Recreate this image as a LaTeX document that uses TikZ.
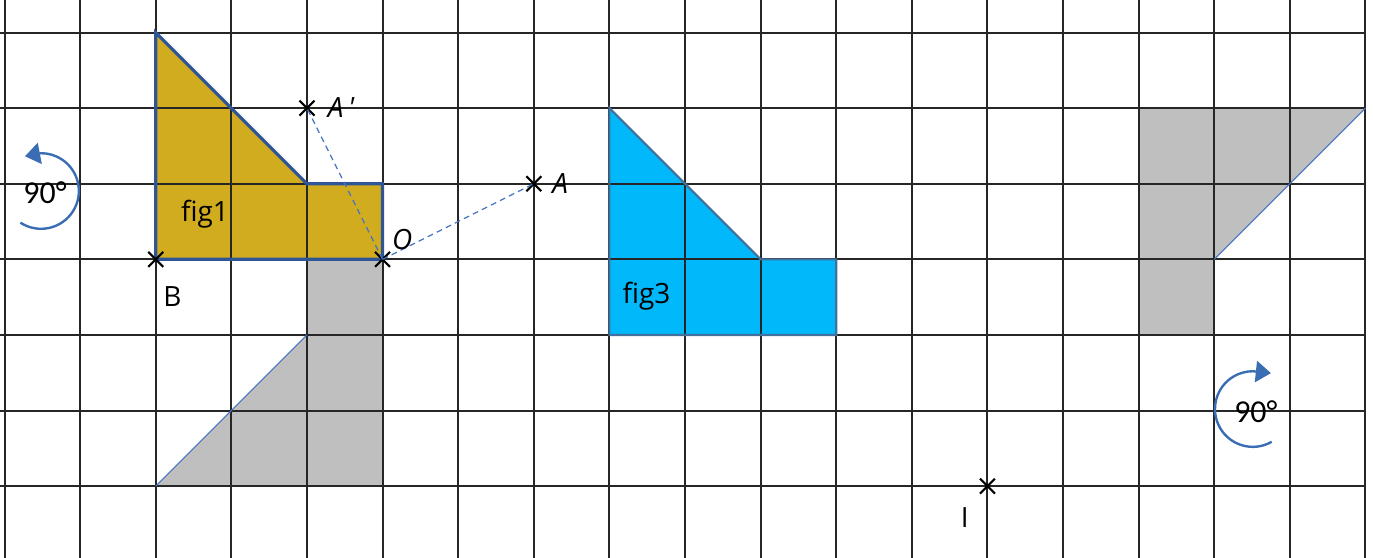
\documentclass[tikz,border=0pt]{standalone}
\usepackage{fontspec}
\setmainfont{Open Sans}
\newfontfamily\calfont{Carlito}
\usetikzlibrary{arrows.meta,shapes.misc}
\definecolor{goldc}{HTML}{D1AC1E}
\definecolor{cyanc}{HTML}{00B8FA}
\definecolor{grayc}{HTML}{BFBFBF}
\definecolor{darkblue}{HTML}{2F5597}
\definecolor{steelc}{HTML}{41719C}
\definecolor{arcblue}{HTML}{3A6DB3}
\definecolor{dashblue}{HTML}{4472C4}
\tikzset{
  gridline/.style={black!85, line width=0.75pt},
  xmark/.style={cross out, draw=black, line width=0.8pt, minimum size=0.17cm, inner sep=0pt},
  lbl/.style={font=\fontsize{10.5}{12}\selectfont, inner sep=0pt},
  deg/.style={font=\calfont\fontsize{12}{14}\selectfont, inner sep=0pt},
  dashline/.style={dashblue, line width=0.45pt, dash pattern=on 2.2pt off 1.6pt},
  rotarc/.style={arcblue, line width=0.9pt, -{Triangle[length=0.2cm, width=0.28cm]}},
}
\begin{document}
\begin{tikzpicture}[x=1cm,y=1cm]
\useasboundingbox (-0.06,0.43) rectangle (18.10,-6.95);
% fills
\fill[goldc] (2,0) -- (2,-3) -- (5,-3) -- (5,-2) -- (4,-2) -- cycle;
\fill[grayc] (4,-3) -- (5,-3) -- (5,-6) -- (2,-6) -- (4,-4) -- cycle;
\fill[cyanc] (8,-1) -- (8,-4) -- (11,-4) -- (11,-3) -- (10,-3) -- cycle;
\fill[grayc] (15,-1) -- (18,-1) -- (16,-3) -- (16,-4) -- (15,-4) -- cycle;
% grid
\foreach \i in {0,...,18} \draw[gridline] (\i,0.43) -- (\i,-6.95);
\foreach \j in {0,...,6} \draw[gridline] (-0.06,-\j) -- (18,-\j);
% outlines
\draw[darkblue, line width=1.2pt, line join=miter] (2,0) -- (2,-3) -- (5,-3) -- (5,-2) -- (4,-2) -- cycle;
\draw[steelc, line width=0.8pt] (8,-1) -- (8,-4) -- (11,-4) -- (11,-3) -- (10,-3) -- cycle;
\draw[dashblue, line width=0.4pt] (2,-6) -- (4,-4);
\draw[dashblue, line width=0.4pt] (18,-1) -- (16,-3);
% points
\node[xmark] (Ap) at (4,-1) {};
\node[xmark] (A) at (7,-2) {};
\node[xmark] (O) at (5,-3) {};
\node[xmark] (B) at (2,-3) {};
\node[xmark] (I) at (13,-6) {};
\draw[dashline] (O.center) -- (A.center);
\draw[dashline] (O.center) -- (Ap.center);
% labels
\node[lbl, anchor=west] (lAp) at (4.27,-0.99) {\itshape A\,\textquotesingle};
\node[lbl] (lA) at (7.35,-2.0) {\itshape A};
\node[lbl] (lO) at (5.26,-2.74) {\itshape O};
\node[lbl] (lB) at (2.22,-3.49) {B};
\node[lbl] (lI) at (12.70,-6.41) {I};
\node[lbl] (f1) at (2.65,-2.40) {fig1};
\node[lbl] (f3) at (8.49,-3.49) {fig3};
% rotation arrows
\coordinate (c1) at (0.483,-2.096);
\coordinate (t1) at (0.27,-1.637);
\draw[rotarc] ([shift={(-123:0.5)}]c1) arc[start angle=-123, end angle=90, radius=0.5] -- (t1);
\node[deg] (d1) at (0.536,-2.12) {90°};
\coordinate (c2) at (16.51,-4.98);
\coordinate (t2) at (16.75,-4.505);
\draw[rotarc] ([shift={(-60:0.5)}]c2) arc[start angle=-60, end angle=-270, radius=0.5] -- (t2);
\node[deg] (d2) at (16.55,-5.01) {90°};
\end{tikzpicture}
\end{document}
